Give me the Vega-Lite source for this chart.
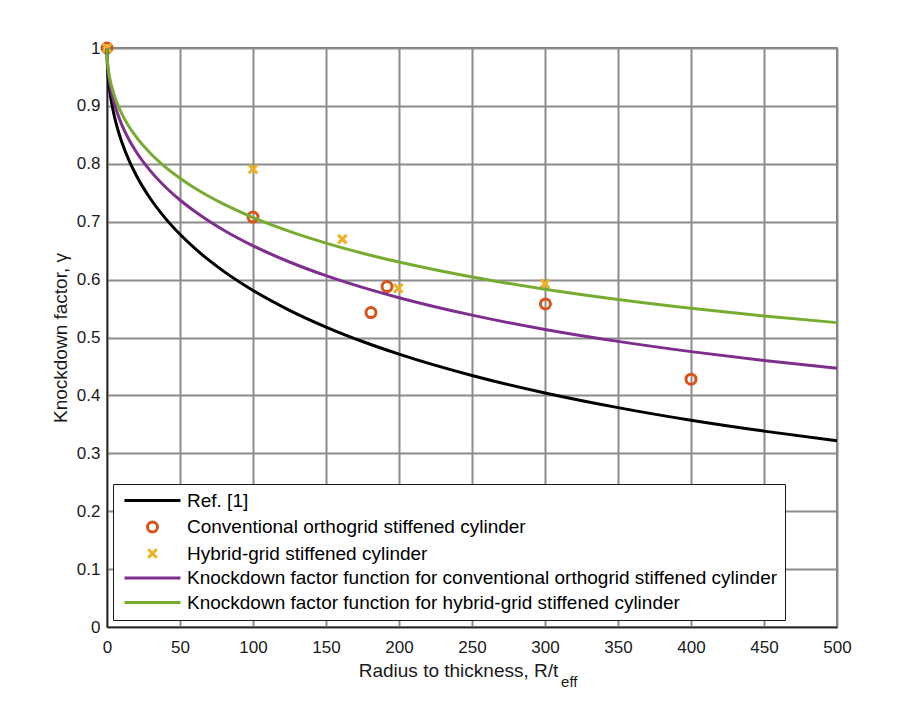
{
  "$schema": "https://vega.github.io/schema/vega-lite/v6.json",
  "width": 730,
  "height": 579,
  "autosize": {"type": "none"},
  "padding": {"left": 107, "top": 48, "right": 73, "bottom": 85},
  "background": "white",
  "datasets": {
    "tests": [
      {"series": "Conventional orthogrid stiffened cylinder", "x": 0, "y": 1},
      {"series": "Conventional orthogrid stiffened cylinder", "x": 100, "y": 0.708},
      {"series": "Conventional orthogrid stiffened cylinder", "x": 180.8, "y": 0.543},
      {"series": "Conventional orthogrid stiffened cylinder", "x": 191.8, "y": 0.588},
      {"series": "Conventional orthogrid stiffened cylinder", "x": 300.3, "y": 0.558},
      {"series": "Conventional orthogrid stiffened cylinder", "x": 400, "y": 0.428},
      {"series": "Hybrid-grid stiffened cylinder", "x": 0, "y": 1},
      {"series": "Hybrid-grid stiffened cylinder", "x": 100, "y": 0.791},
      {"series": "Hybrid-grid stiffened cylinder", "x": 161.2, "y": 0.67},
      {"series": "Hybrid-grid stiffened cylinder", "x": 199.5, "y": 0.585},
      {"series": "Hybrid-grid stiffened cylinder", "x": 300, "y": 0.593}
    ],
    "curves": [
      {"series": "Ref. [1]", "x": 0, "y": 1},
      {"series": "Ref. [1]", "x": 0.25, "y": 0.9722},
      {"series": "Ref. [1]", "x": 0.5, "y": 0.9611},
      {"series": "Ref. [1]", "x": 1, "y": 0.9454},
      {"series": "Ref. [1]", "x": 2, "y": 0.9238},
      {"series": "Ref. [1]", "x": 3, "y": 0.9076},
      {"series": "Ref. [1]", "x": 5, "y": 0.8825},
      {"series": "Ref. [1]", "x": 7, "y": 0.8627},
      {"series": "Ref. [1]", "x": 10, "y": 0.8385},
      {"series": "Ref. [1]", "x": 15, "y": 0.8063},
      {"series": "Ref. [1]", "x": 20, "y": 0.7803},
      {"series": "Ref. [1]", "x": 30, "y": 0.7388},
      {"series": "Ref. [1]", "x": 40, "y": 0.7058},
      {"series": "Ref. [1]", "x": 50, "y": 0.6782},
      {"series": "Ref. [1]", "x": 60, "y": 0.6542},
      {"series": "Ref. [1]", "x": 70, "y": 0.6331},
      {"series": "Ref. [1]", "x": 80, "y": 0.6142},
      {"series": "Ref. [1]", "x": 100, "y": 0.5813},
      {"series": "Ref. [1]", "x": 125, "y": 0.547},
      {"series": "Ref. [1]", "x": 150, "y": 0.5181},
      {"series": "Ref. [1]", "x": 175, "y": 0.4931},
      {"series": "Ref. [1]", "x": 200, "y": 0.4713},
      {"series": "Ref. [1]", "x": 250, "y": 0.4344},
      {"series": "Ref. [1]", "x": 300, "y": 0.4042},
      {"series": "Ref. [1]", "x": 350, "y": 0.3789},
      {"series": "Ref. [1]", "x": 400, "y": 0.3571},
      {"series": "Ref. [1]", "x": 450, "y": 0.3383},
      {"series": "Ref. [1]", "x": 500, "y": 0.3217},
      {"series": "Knockdown factor function for conventional orthogrid stiffened cylinder", "x": 0, "y": 1},
      {"series": "Knockdown factor function for conventional orthogrid stiffened cylinder", "x": 0.25, "y": 0.9774},
      {"series": "Knockdown factor function for conventional orthogrid stiffened cylinder", "x": 0.5, "y": 0.9682},
      {"series": "Knockdown factor function for conventional orthogrid stiffened cylinder", "x": 1, "y": 0.9555},
      {"series": "Knockdown factor function for conventional orthogrid stiffened cylinder", "x": 2, "y": 0.9378},
      {"series": "Knockdown factor function for conventional orthogrid stiffened cylinder", "x": 3, "y": 0.9246},
      {"series": "Knockdown factor function for conventional orthogrid stiffened cylinder", "x": 5, "y": 0.9042},
      {"series": "Knockdown factor function for conventional orthogrid stiffened cylinder", "x": 7, "y": 0.888},
      {"series": "Knockdown factor function for conventional orthogrid stiffened cylinder", "x": 10, "y": 0.8682},
      {"series": "Knockdown factor function for conventional orthogrid stiffened cylinder", "x": 15, "y": 0.842},
      {"series": "Knockdown factor function for conventional orthogrid stiffened cylinder", "x": 20, "y": 0.8208},
      {"series": "Knockdown factor function for conventional orthogrid stiffened cylinder", "x": 30, "y": 0.7869},
      {"series": "Knockdown factor function for conventional orthogrid stiffened cylinder", "x": 40, "y": 0.76},
      {"series": "Knockdown factor function for conventional orthogrid stiffened cylinder", "x": 50, "y": 0.7375},
      {"series": "Knockdown factor function for conventional orthogrid stiffened cylinder", "x": 60, "y": 0.7179},
      {"series": "Knockdown factor function for conventional orthogrid stiffened cylinder", "x": 70, "y": 0.7007},
      {"series": "Knockdown factor function for conventional orthogrid stiffened cylinder", "x": 80, "y": 0.6853},
      {"series": "Knockdown factor function for conventional orthogrid stiffened cylinder", "x": 100, "y": 0.6584},
      {"series": "Knockdown factor function for conventional orthogrid stiffened cylinder", "x": 125, "y": 0.6304},
      {"series": "Knockdown factor function for conventional orthogrid stiffened cylinder", "x": 150, "y": 0.6068},
      {"series": "Knockdown factor function for conventional orthogrid stiffened cylinder", "x": 175, "y": 0.5865},
      {"series": "Knockdown factor function for conventional orthogrid stiffened cylinder", "x": 200, "y": 0.5687},
      {"series": "Knockdown factor function for conventional orthogrid stiffened cylinder", "x": 250, "y": 0.5386},
      {"series": "Knockdown factor function for conventional orthogrid stiffened cylinder", "x": 300, "y": 0.5139},
      {"series": "Knockdown factor function for conventional orthogrid stiffened cylinder", "x": 350, "y": 0.4933},
      {"series": "Knockdown factor function for conventional orthogrid stiffened cylinder", "x": 400, "y": 0.4756},
      {"series": "Knockdown factor function for conventional orthogrid stiffened cylinder", "x": 450, "y": 0.4602},
      {"series": "Knockdown factor function for conventional orthogrid stiffened cylinder", "x": 500, "y": 0.4467},
      {"series": "Knockdown factor function for hybrid-grid stiffened cylinder", "x": 0, "y": 1},
      {"series": "Knockdown factor function for hybrid-grid stiffened cylinder", "x": 0.25, "y": 0.9806},
      {"series": "Knockdown factor function for hybrid-grid stiffened cylinder", "x": 0.5, "y": 0.9728},
      {"series": "Knockdown factor function for hybrid-grid stiffened cylinder", "x": 1, "y": 0.9618},
      {"series": "Knockdown factor function for hybrid-grid stiffened cylinder", "x": 2, "y": 0.9467},
      {"series": "Knockdown factor function for hybrid-grid stiffened cylinder", "x": 3, "y": 0.9354},
      {"series": "Knockdown factor function for hybrid-grid stiffened cylinder", "x": 5, "y": 0.9178},
      {"series": "Knockdown factor function for hybrid-grid stiffened cylinder", "x": 7, "y": 0.904},
      {"series": "Knockdown factor function for hybrid-grid stiffened cylinder", "x": 10, "y": 0.887},
      {"series": "Knockdown factor function for hybrid-grid stiffened cylinder", "x": 15, "y": 0.8645},
      {"series": "Knockdown factor function for hybrid-grid stiffened cylinder", "x": 20, "y": 0.8464},
      {"series": "Knockdown factor function for hybrid-grid stiffened cylinder", "x": 30, "y": 0.8174},
      {"series": "Knockdown factor function for hybrid-grid stiffened cylinder", "x": 40, "y": 0.7943},
      {"series": "Knockdown factor function for hybrid-grid stiffened cylinder", "x": 50, "y": 0.775},
      {"series": "Knockdown factor function for hybrid-grid stiffened cylinder", "x": 60, "y": 0.7582},
      {"series": "Knockdown factor function for hybrid-grid stiffened cylinder", "x": 70, "y": 0.7435},
      {"series": "Knockdown factor function for hybrid-grid stiffened cylinder", "x": 80, "y": 0.7302},
      {"series": "Knockdown factor function for hybrid-grid stiffened cylinder", "x": 100, "y": 0.7072},
      {"series": "Knockdown factor function for hybrid-grid stiffened cylinder", "x": 125, "y": 0.6832},
      {"series": "Knockdown factor function for hybrid-grid stiffened cylinder", "x": 150, "y": 0.663},
      {"series": "Knockdown factor function for hybrid-grid stiffened cylinder", "x": 175, "y": 0.6456},
      {"series": "Knockdown factor function for hybrid-grid stiffened cylinder", "x": 200, "y": 0.6303},
      {"series": "Knockdown factor function for hybrid-grid stiffened cylinder", "x": 250, "y": 0.6045},
      {"series": "Knockdown factor function for hybrid-grid stiffened cylinder", "x": 300, "y": 0.5834},
      {"series": "Knockdown factor function for hybrid-grid stiffened cylinder", "x": 350, "y": 0.5657},
      {"series": "Knockdown factor function for hybrid-grid stiffened cylinder", "x": 400, "y": 0.5505},
      {"series": "Knockdown factor function for hybrid-grid stiffened cylinder", "x": 450, "y": 0.5373},
      {"series": "Knockdown factor function for hybrid-grid stiffened cylinder", "x": 500, "y": 0.5257}
    ]
  },
  "config": {
    "font": "Liberation Sans",
    "view": {"stroke": "#4d4d4d", "strokeWidth": 1.5},
    "axis": {
      "labelFont": "Liberation Sans",
      "labelFontSize": 17,
      "labelColor": "#1a1a1a",
      "labelFlush": false,
      "titleFont": "Liberation Sans",
      "titleFontSize": 19,
      "titleFontWeight": "normal",
      "titleColor": "#1a1a1a",
      "gridColor": "#8c8c8c",
      "gridWidth": 2,
      "gridOpacity": 1,
      "domainColor": "#262626",
      "domainWidth": 1.5,
      "ticks": false
    },
    "legend": {
      "labelFont": "Liberation Sans",
      "labelFontSize": 19,
      "labelColor": "#000000",
      "labelLimit": 2000,
      "symbolStrokeWidth": 3,
      "symbolSize": 100,
      "symbolFillColor": "transparent"
    }
  },
  "layer": [
    {
      "data": {"name": "tests"},
      "mark": {"type": "point", "filled": false, "strokeWidth": 3, "size": 100, "opacity": 1},
      "encoding": {
        "x": {
          "field": "x", "type": "quantitative",
          "scale": {"domain": [0, 500], "nice": false},
          "axis": {
            "values": [0, 50, 100, 150, 200, 250, 300, 350, 400, 450, 500],
            "grid": true,
            "labelFlush": false,
            "labelPadding": 12,
            "title": "Radius to thickness, R/t",
            "titlePadding": 6,
            "titleX": 351
          }
        },
        "y": {
          "field": "y", "type": "quantitative",
          "scale": {"domain": [0, 1], "nice": false},
          "axis": {
            "values": [0, 0.1, 0.2, 0.3, 0.4, 0.5, 0.6, 0.7, 0.8, 0.9, 1],
            "format": ".1~f",
            "grid": true,
            "labelFlush": false,
            "labelPadding": 7,
            "title": "Knockdown factor, γ",
            "titlePadding": 6
          }
        },
        "color": {
          "field": "series", "type": "nominal",
          "scale": {
            "domain": ["Ref. [1]", "Conventional orthogrid stiffened cylinder", "Hybrid-grid stiffened cylinder", "Knockdown factor function for conventional orthogrid stiffened cylinder", "Knockdown factor function for hybrid-grid stiffened cylinder"],
            "range": ["#000000", "#D95319", "#EDB120", "#7E2F8E", "#77AC30"]
          },
          "legend": {
            "title": null, "orient": "none", "legendX": 6, "legendY": 436,
            "fillColor": "white", "strokeColor": "#1a1a1a", "padding": 7, "rowPadding": 4.5,
            "symbolOffset": 23, "labelOffset": 25
          }
        },
        "shape": {
          "field": "series", "type": "nominal",
          "scale": {
            "domain": ["Ref. [1]", "Conventional orthogrid stiffened cylinder", "Hybrid-grid stiffened cylinder", "Knockdown factor function for conventional orthogrid stiffened cylinder", "Knockdown factor function for hybrid-grid stiffened cylinder"],
            "range": ["M-5.6,0H5.6", "circle", "M-0.85,-0.85L0.85,0.85M-0.85,0.85L0.85,-0.85", "M-5.6,0H5.6", "M-5.6,0H5.6"]
          },
          "legend": {
            "title": null, "orient": "none", "legendX": 6, "legendY": 436,
            "fillColor": "white", "strokeColor": "#1a1a1a", "padding": 7, "rowPadding": 4.5,
            "symbolOffset": 23, "labelOffset": 25
          }
        }
      }
    },
    {
      "data": {"name": "curves"},
      "mark": {"type": "line", "strokeWidth": 3, "interpolate": "monotone"},
      "encoding": {
        "x": {"field": "x", "type": "quantitative"},
        "y": {"field": "y", "type": "quantitative"},
        "color": {"field": "series", "type": "nominal"}
      }
    },
    {
      "data": {"values": [{"sub": "eff"}]},
      "mark": {"type": "text", "align": "left", "baseline": "alphabetic", "fontSize": 15, "font": "Liberation Sans", "color": "#1a1a1a", "dy": 60},
      "encoding": {
        "x": {"datum": 311, "type": "quantitative"},
        "y": {"datum": 0, "type": "quantitative"},
        "text": {"field": "sub"}
      }
    }
  ]
}
